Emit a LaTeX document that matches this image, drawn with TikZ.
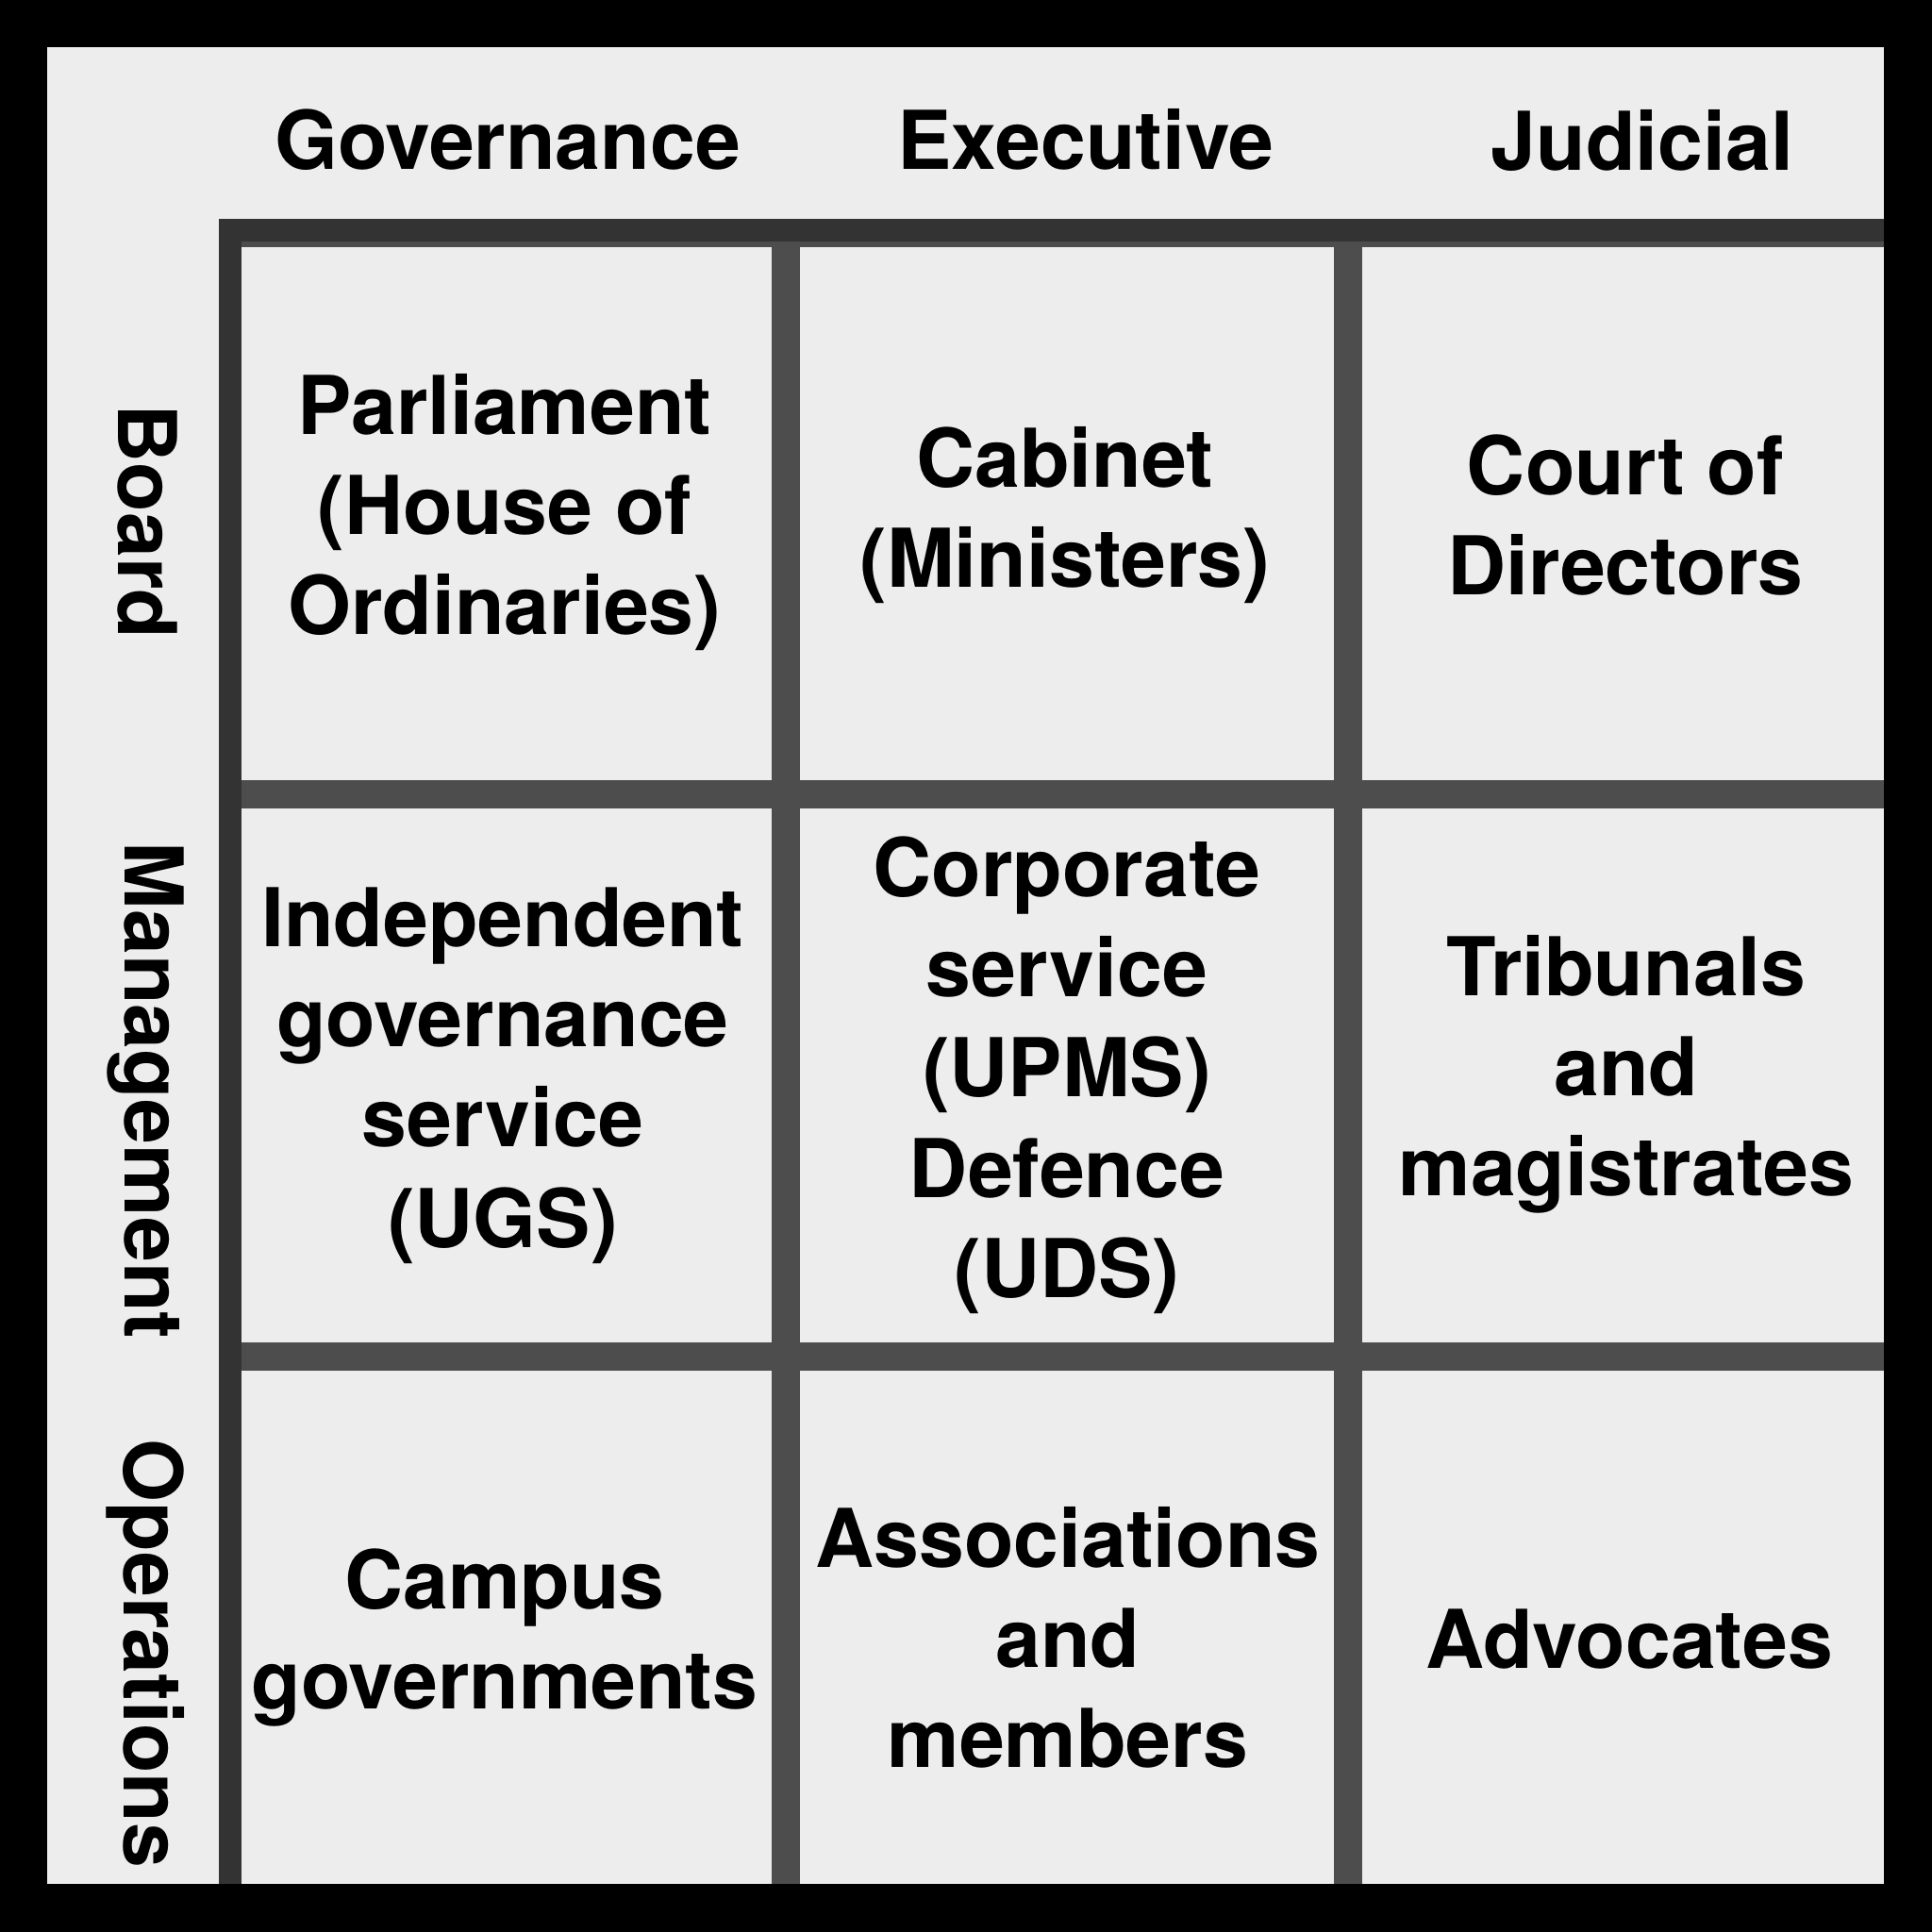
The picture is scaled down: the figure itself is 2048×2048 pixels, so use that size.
\documentclass[tikz,border=0pt]{standalone}
\usepackage{fontspec}
\setmainfont{TeX Gyre Heros}
\definecolor{bglight}{HTML}{EDEDED}
\definecolor{framedark}{HTML}{333333}
\definecolor{griddark}{HTML}{4D4D4D}
\tikzset{
  lbl/.style={inner sep=0pt, outer sep=0pt, text=black, align=center,
    font=\fontsize{21.5pt}{26.6pt}\selectfont\bfseries},
  celltext/.style={lbl, anchor=north},
  header/.style={lbl, anchor=base},
  rowlbl/.style={lbl, anchor=base, rotate=-90},
  cellfill/.style={fill=bglight}
}
\newcommand{\fs}{\rule{0pt}{20.5pt}}
\begin{document}
\begin{tikzpicture}[x=0.25pt,y=-0.25pt]
\useasboundingbox (0,0) rectangle (2048,2048);
\fill[black] (0,0) rectangle (2048,2048);
\fill[bglight] (50,50) rectangle (1997,1997);
% grid background
\fill[griddark] (256,256) rectangle (1997,1997);
% cells
\fill[cellfill] (256,262) rectangle (818,827);
\fill[cellfill] (848,262) rectangle (1414,827);
\fill[cellfill] (1444,262) rectangle (1997,827);
\fill[cellfill] (256,857) rectangle (818,1423);
\fill[cellfill] (848,857) rectangle (1414,1423);
\fill[cellfill] (1444,857) rectangle (1997,1423);
\fill[cellfill] (256,1453) rectangle (818,1997);
\fill[cellfill] (848,1453) rectangle (1414,1997);
\fill[cellfill] (1444,1453) rectangle (1997,1997);
% outer L frame
\fill[framedark] (232,232) rectangle (1997,256);
\fill[framedark] (232,232) rectangle (256,1997);
% headers
\node[header] (hgov) at (538,179) {Governance};
\node[header] (hexe) at (1151,179) {Executive};
\node[header] (hjud) at (1741,180) {Judicial};
% row labels
\node[rowlbl] (rboard) at (125,553) {Board};
\node[rowlbl] (rmgmt) at (132,1156) {Management};
\node[rowlbl] (rops) at (131,1753) {Operations};
% cell texts
\node[celltext] (c11) at (535,378) {\fs Parliament\\(House of\\Ordinaries)};
\node[celltext] (c12) at (1129,434) {\fs Cabinet\\(Ministers)};
\node[celltext] (c13) at (1723,442) {\fs Court of\\Directors};
\node[celltext] (c21) at (533,921) {\fs Independent\\governance\\service\\(UGS)};
\node[celltext] (c22) at (1131,868) {\fs Corporate\\service\\(UPMS)\\Defence\\(UDS)};
\node[celltext] (c23) at (1724,973) {\fs Tribunals\\and\\magistrates};
\node[celltext] (c31) at (535,1623) {\fs Campus\\governments};
\node[celltext] (c32) at (1132,1579) {\fs Associations\\and\\members};
\node[celltext] (c33) at (1727,1686) {\fs Advocates};
\end{tikzpicture}
\end{document}
